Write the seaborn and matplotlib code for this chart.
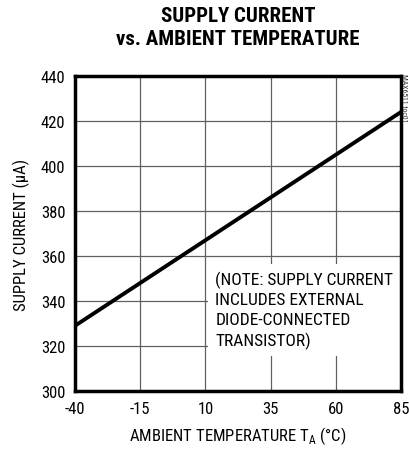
import numpy as np
import pandas as pd
import seaborn as sns
import matplotlib.pyplot as plt

# data
temp_c = [-40, 85]
supply_ua = [329, 424]
x_ticks = [-40, -15, 10, 35, 60, 85]
y_ticks = [300, 320, 340, 360, 380, 400, 420, 440]

df = pd.DataFrame({"temp": temp_c, "current": supply_ua})

sns.set_style("white", {"text.color": "black", "axes.labelcolor": "black",
                        "xtick.color": "black", "ytick.color": "black"})
plt.rcParams["font.family"] = ["Roboto Condensed", "Archivo Narrow", "Barlow Condensed", "DejaVu Sans"]
plt.rcParams["axes.unicode_minus"] = False

fig = plt.figure(figsize=(4.10, 4.56), dpi=100)
ax = fig.add_axes([75 / 410, 1 - 392 / 456, 326 / 410, 315 / 456])

sns.lineplot(data=df, x="temp", y="current", color="black", linewidth=2.8, ax=ax, zorder=3)

ax.set_xlim(-40, 85)
ax.set_ylim(300, 440)
ax.set_xticks(x_ticks)
ax.set_yticks(y_ticks)
ax.tick_params(length=0, labelsize=12, pad=7)
ax.grid(True, color="#606060", linewidth=0.9)
for s in ax.spines.values():
    s.set_linewidth(2.5)
    s.set_color("black")
    s.set_zorder(5)

ax.set_xlabel("AMBIENT TEMPERATURE T$_\\mathregular{A}$ (°C)", fontsize=12, labelpad=6)
ax.set_ylabel("SUPPLY CURRENT (µA)", fontsize=12, labelpad=8)

ax.text(13.8, 336, "(NOTE: SUPPLY CURRENT\nINCLUDES EXTERNAL\nDIODE-CONNECTED\nTRANSISTOR)",
        fontsize=12.5, va="center", ha="left", linespacing=1.38, zorder=4,
        bbox=dict(facecolor="white", edgecolor="none", pad=5))

fig.text(238 / 410, 1 - 28 / 456, "SUPPLY CURRENT\nvs. AMBIENT TEMPERATURE",
         ha="center", va="center", fontsize=15, fontweight="bold", linespacing=1.25)
fig.text(404 / 410, 1 - 98 / 456, "MAX6511 toc01", rotation=270, fontsize=5.5,
         ha="center", va="center", color="#333333")

fig.savefig("out.png", dpi=100)
